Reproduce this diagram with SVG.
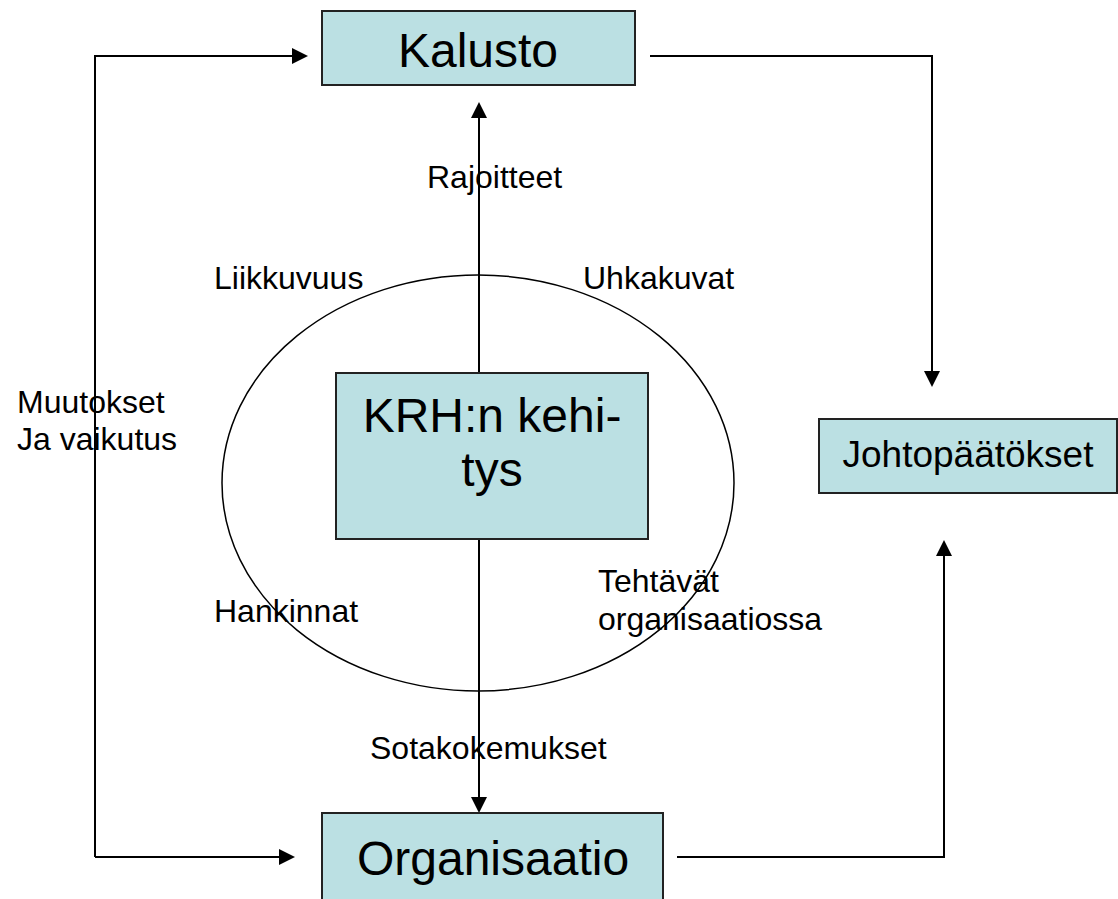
<svg xmlns="http://www.w3.org/2000/svg" width="1118" height="899" viewBox="0 0 1118 899">
  <style>
    .box { fill: #bbe0e3; stroke: #222; stroke-width: 2; }
    .big { font-family: "Liberation Sans", Arial, sans-serif; font-size: 48px; fill: #000; text-anchor: middle; }
    .mid { font-family: "Liberation Sans", Arial, sans-serif; font-size: 37px; fill: #000; text-anchor: middle; }
    .lbl { font-family: "Liberation Sans", Arial, sans-serif; font-size: 32px; fill: #000; }
    .wire { fill: none; stroke: #000; stroke-width: 2; }
    .head { fill: #000; }
  </style>
  <rect width="1118" height="899" fill="#fff"/>

  <!-- circle of influences around the central node -->
  <ellipse cx="478" cy="483" rx="256" ry="208" fill="none" stroke="#000" stroke-width="1.5"/>

  <g id="connectors">
    <!-- feedback loop on the left -->
    <path class="wire" d="M95,857 L95,56 L293,56"/>
    <path class="head" d="M308,56 L292,48 L292,64 z"/>
    <path class="wire" d="M95,857 L280,857"/>
    <path class="head" d="M295,857 L279,849 L279,865 z"/>
    <!-- outputs to the conclusions -->
    <path class="wire" d="M650,56 L932,56 L932,372"/>
    <path class="head" d="M932,387 L924,371 L940,371 z"/>
    <path class="wire" d="M677,857 L944,857 L944,555"/>
    <path class="head" d="M944,540 L936,556 L952,556 z"/>
    <!-- central axis -->
    <path class="wire" d="M479,373 L479,117"/>
    <path class="head" d="M479,102 L471,118 L487,118 z"/>
    <path class="wire" d="M479,539 L479,798"/>
    <path class="head" d="M479,813 L471,797 L487,797 z"/>
  </g>

  <g id="kalusto">
    <rect class="box" x="322" y="11" width="313" height="74"/>
    <text class="big" x="478" y="67">Kalusto</text>
  </g>

  <g id="krh">
    <rect class="box" x="336" y="373" width="312" height="166"/>
    <text class="big" x="492" y="432">KRH:n kehi-</text>
    <text class="big" x="492" y="486">tys</text>
  </g>

  <g id="organisaatio">
    <rect class="box" x="322" y="813" width="341" height="100"/>
    <text class="big" x="493" y="875">Organisaatio</text>
  </g>

  <g id="johtopaatokset">
    <rect class="box" x="819" y="419" width="298" height="74"/>
    <text class="mid" x="968" y="467">Johtopäätökset</text>
  </g>

  <g id="labels">
    <text class="lbl" x="427" y="188">Rajoitteet</text>
    <text class="lbl" x="214" y="289">Liikkuvuus</text>
    <text class="lbl" x="583" y="289">Uhkakuvat</text>
    <text class="lbl" x="17" y="413">Muutokset</text>
    <text class="lbl" x="17" y="450">Ja vaikutus</text>
    <text class="lbl" x="214" y="622">Hankinnat</text>
    <text class="lbl" x="598" y="592">Tehtävät</text>
    <text class="lbl" x="598" y="630">organisaatiossa</text>
    <text class="lbl" x="370" y="759">Sotakokemukset</text>
  </g>
</svg>
